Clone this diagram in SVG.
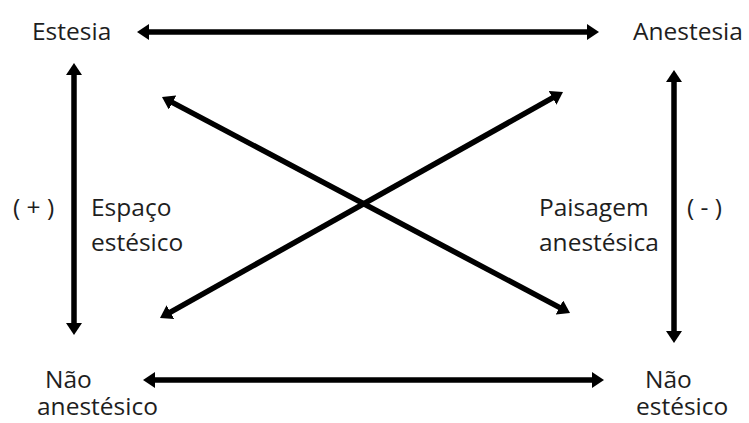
<svg xmlns="http://www.w3.org/2000/svg" width="749" height="423" viewBox="0 0 749 423">
<style>
text{font-family:"Open Sans","Noto Sans","Liberation Sans",sans-serif;font-size:24.5px;fill:#1e1e1e}
.a{stroke:#000;stroke-width:5.5;fill:none;marker-start:url(#ah);marker-end:url(#ah)}
</style>
<defs>
<marker id="ah" viewBox="0 0 12 16" refX="1" refY="8" markerWidth="12" markerHeight="16" markerUnits="userSpaceOnUse" orient="auto-start-reverse">
<path d="M0,0 L12,8 L0,16 z" fill="#000"/>
</marker>
</defs>
<rect width="749" height="423" fill="#fff"/>
<g id="connectors">
<line class="a" x1="148" y1="32" x2="588" y2="32"/>
<line class="a" x1="154" y1="380" x2="593" y2="380"/>
<line class="a" x1="74" y1="74" x2="74" y2="324"/>
<line class="a" x1="674" y1="81" x2="674" y2="332"/>
<line class="a" x1="171.7" y1="102.1" x2="560.3" y2="307.9"/>
<line class="a" x1="169.6" y1="312.6" x2="553.4" y2="97.4"/>
</g>
<g id="estesia"><text x="32" y="40">Estesia</text></g>
<g id="anestesia"><text x="633" y="40">Anestesia</text></g>
<g id="nao-anestesico"><text x="45" y="388">Não</text><text x="37" y="415">anestésico</text></g>
<g id="nao-estesico"><text x="645" y="388">Não</text><text x="636" y="415">estésico</text></g>
<g id="mais"><text x="13" y="216">( + )</text></g>
<g id="espaco-estesico"><text x="91" y="216">Espaço</text><text x="91" y="251">estésico</text></g>
<g id="paisagem-anestesica"><text x="539" y="216">Paisagem</text><text x="539" y="251">anestésica</text></g>
<g id="menos"><text x="687" y="216">( - )</text></g>
</svg>
